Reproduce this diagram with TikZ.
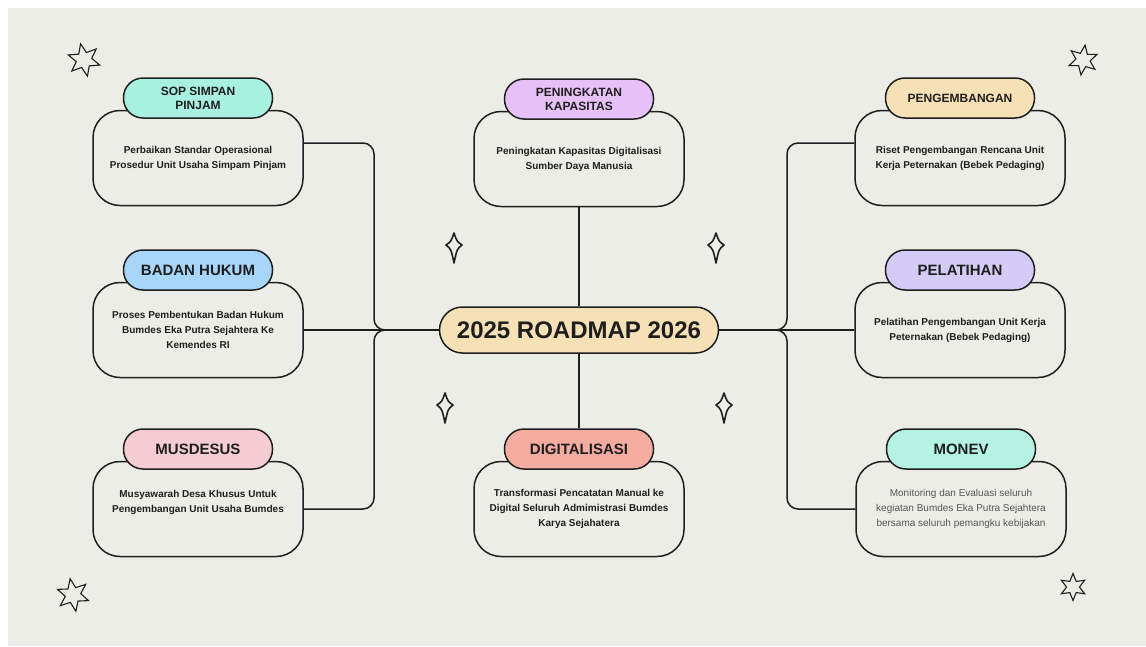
\documentclass[tikz,border=0pt]{standalone}
\usepackage{fontspec}
\setmainfont{Liberation Sans}
\usepackage{tikz}
\usetikzlibrary{positioning,shapes.geometric}
\definecolor{fond}{RGB}{237,237,232}
\definecolor{encre}{RGB}{30,30,30}
\definecolor{abu}{RGB}{85,85,85}
\definecolor{tosca}{RGB}{168,240,224}
\definecolor{lila}{RGB}{230,192,246}
\definecolor{krem}{RGB}{246,224,182}
\definecolor{biru}{RGB}{168,214,250}
\definecolor{ungu}{RGB}{212,204,247}
\definecolor{merahmuda}{RGB}{246,204,212}
\definecolor{salem}{RGB}{245,172,160}
\definecolor{mint}{RGB}{180,242,228}

\begin{document}
\begin{tikzpicture}[x=1pt,y=-1pt,
	garis/.style={draw=encre,line width=1.5pt},
	kartu/.style={garis,fill=fond,rounded corners=27pt,minimum width=210pt,minimum height=95pt,inner sep=0pt,align=center,text=encre,font=\bfseries\fontsize{10}{15}\selectfont},
	tabbox/.style={garis,fill=#1,rounded corners=19.5pt,minimum width=149pt,minimum height=40pt,inner sep=0pt,align=center,text=encre,font=\bfseries\fontsize{15}{17}\selectfont},
	kecil/.style={font=\bfseries\fontsize{12}{14}\selectfont},
	hub/.style={draw=encre,line width=1.5pt,rounded corners=11pt},
	bintang/.style={draw=encre,line width=1.1pt,star,star points=6,star point ratio=2.1,minimum size=#1,inner sep=0pt},
	kilau/.pic={\draw[encre,line width=1.6pt,line join=round] (0,-12) .. controls (3,-3.5) .. (8,0) .. controls (3,4) .. (0,18) .. controls (-3,4) .. (-8,0) .. controls (-3,-3.5) .. (0,-12) -- cycle;}]
					\useasboundingbox (0,0) rectangle (1146,646);
					\fill[fond] (8,8) rectangle (1146,646);
					
					\node[garis,fill=krem,rounded corners=23pt,minimum width=279pt,minimum height=46pt,font=\bfseries\fontsize{24}{26}\selectfont,text=encre] (road) at (579,330) {2025 ROADMAP 2026};
					
					\node[kartu] (sop) at (198,158) {Perbaikan Standar Operasional\\Prosedur Unit Usaha Simpam Pinjam};
					\node[tabbox=tosca,kecil,above=-9pt of sop] (soptab) {SOP SIMPAN\\PINJAM};
					\node[kartu] (kap) at (579,159) {Peningkatan Kapasitas Digitalisasi\\Sumber Daya Manusia};
					\node[tabbox=lila,kecil,above=-9pt of kap] (kaptab) {PENINGKATAN\\KAPASITAS};
					\node[kartu] (peng) at (960,158) {Riset Pengembangan Rencana Unit\\Kerja Peternakan (Bebek Pedaging)};
					\node[tabbox=krem,kecil,above=-9pt of peng] (pengtab) {PENGEMBANGAN};
					
					\node[kartu] (badan) at (198,330) {Proses Pembentukan Badan Hukum\\Bumdes Eka Putra Sejahtera Ke\\Kemendes RI};
					\node[tabbox=biru,above=-9pt of badan] (badantab) {BADAN HUKUM};
					\node[kartu] (pel) at (960,330) {Pelatihan Pengembangan Unit Kerja\\Peternakan (Bebek Pedaging)};
					\node[tabbox=ungu,above=-9pt of pel] (peltab) {PELATIHAN};
					
					\node[kartu] (mus) at (198,509) {Musyawarah Desa Khusus Untuk\\Pengembangan Unit Usaha Bumdes\\ \mbox{}};
					\node[tabbox=merahmuda,above=-9pt of mus] (mustab) {MUSDESUS};
					\node[kartu] (dig) at (579,509) {Transformasi Pencatatan Manual ke\\Digital Seluruh Admimistrasi Bumdes\\Karya Sejahatera};
					\node[tabbox=salem,above=-9pt of dig] (digtab) {DIGITALISASI};
					\node[kartu,text=abu,font=\fontsize{10}{15}\selectfont] (mon) at (961,509) {Monitoring dan Evaluasi seluruh\\kegiatan Bumdes Eka Putra Sejahtera\\bersama seluruh pemangku kebijakan};
					\node[tabbox=mint,above=-9pt of mon] (montab) {MONEV};
					
					\coordinate (kiri) at (374,330);
					\coordinate (kanan) at (787,330);
					\draw[hub] ([yshift=15pt]sop.east) -| (kiri) -- (road.west);
					\draw[hub] (mus.east) -| (kiri) -- (road.west);
					\draw[hub] (badan.east) -- (road.west);
					\draw[hub] ([yshift=15pt]peng.west) -| (kanan) -- (road.east);
					\draw[hub] (mon.west) -| (kanan) -- (road.east);
					\draw[hub] (pel.west) -- (road.east);
					\draw[hub] (kap.south) -- (road.north);
					\draw[hub] (road.south) -- (digtab.north);
					
					\pic at (454,245) {kilau};
					\pic at (716,245) {kilau};
					\pic at (445,405) {kilau};
					\pic at (724,405) {kilau};
					
					\node[bintang=33pt,rotate=12] (b1) at (84,60) {};
					\node[bintang=30pt,rotate=-8] (b2) at (1083,60) {};
					\node[bintang=33pt,rotate=10] (b3) at (73,595) {};
					\node[bintang=27pt,rotate=0] (b4) at (1073,587) {};
				\end{tikzpicture}
\end{document}
